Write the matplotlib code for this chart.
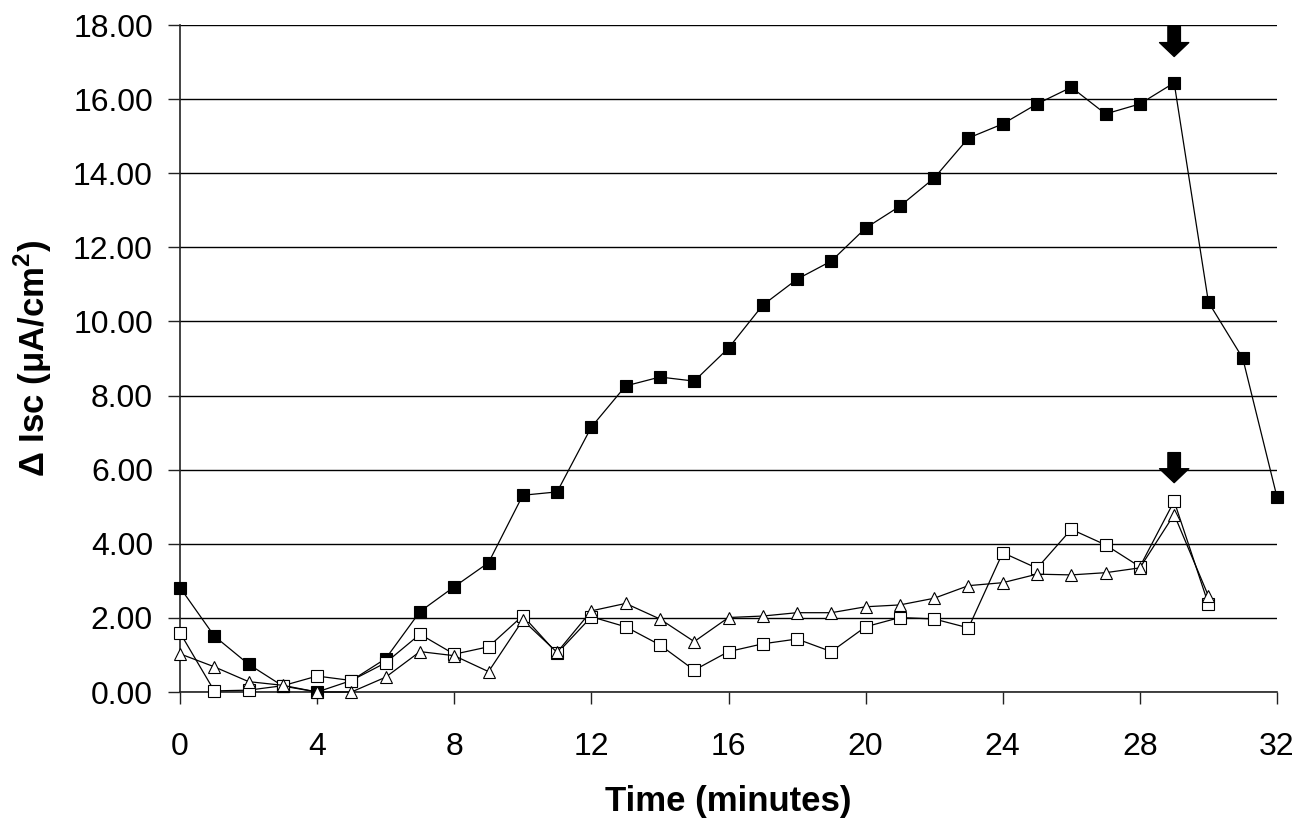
import matplotlib
matplotlib.use("Agg")
import matplotlib.pyplot as plt

plt.rcParams['font.family'] = ['Liberation Sans', 'DejaVu Sans']
plt.rcParams['mathtext.fontset'] = 'custom'
plt.rcParams['mathtext.rm'] = 'Liberation Sans'
plt.rcParams['mathtext.bf'] = 'Liberation Sans:bold'

time_min = list(range(0, 33))
filled = [2.82, 1.51, 0.75, 0.16, 0.00, 0.31, 0.90, 2.17, 2.84, 3.49, 5.31, 5.40,
          7.15, 8.26, 8.50, 8.39, 9.28, 10.44, 11.14, 11.63, 12.52, 13.11, 13.87,
          14.95, 15.33, 15.87, 16.32, 15.60, 15.87, 16.44, 10.52, 9.01, 5.26]
time_short = list(range(0, 31))
open_sq = [1.60, 0.03, 0.05, 0.17, 0.43, 0.31, 0.79, 1.56, 1.02, 1.22, 2.06, 1.04,
           2.03, 1.76, 1.27, 0.59, 1.09, 1.30, 1.43, 1.09, 1.76, 2.01, 1.97, 1.73,
           3.76, 3.34, 4.39, 3.97, 3.38, 5.15, 2.37]
triangle = [1.03, 0.68, 0.28, 0.18, 0.00, 0.00, 0.40, 1.09, 0.98, 0.55, 1.94, 1.07,
            2.19, 2.39, 1.97, 1.36, 2.01, 2.05, 2.14, 2.14, 2.30, 2.35, 2.53, 2.87,
            2.95, 3.18, 3.16, 3.22, 3.35, 4.79, 2.59]
arrow_x = [29, 29]
arrow_tip_y = [17.15, 5.65]

x_ticks = [0, 4, 8, 12, 16, 20, 24, 28, 32]
y_ticks = [0, 2, 4, 6, 8, 10, 12, 14, 16, 18]

fig = plt.figure(figsize=(12.98, 8.19), dpi=100)
ax = fig.add_axes([180/1298, 1 - 692/819, (1277-180)/1298, (692-25)/819])

ax.plot(time_min, filled, color='black', lw=0.9, marker='s', ms=8.2,
        mfc='black', mec='black', mew=0.8, clip_on=False, zorder=3)
ax.plot(time_short, open_sq, color='black', lw=0.9, marker='s', ms=8.2,
        mfc='white', mec='black', mew=0.8, clip_on=False, zorder=4)
ax.plot(time_short, triangle, color='black', lw=0.9, marker='^', ms=9,
        mfc='white', mec='black', mew=0.8, clip_on=False, zorder=5)

for xa, ya in zip(arrow_x, arrow_tip_y):
    ax.annotate('', xy=(xa, ya), xytext=(0, 21.6), textcoords='offset points',
                arrowprops=dict(arrowstyle='simple,head_length=0.5,head_width=1.05,tail_width=0.45',
                                color='black', shrinkA=0, shrinkB=0, mutation_scale=20),
                zorder=6)

ax.set_xlim(0, 32)
ax.set_ylim(0, 18)
ax.set_xticks(x_ticks)
ax.set_yticks(y_ticks)
ax.set_yticklabels([f"{v:.2f}" for v in y_ticks])
ax.yaxis.grid(True, color='black', lw=1.0)
ax.set_axisbelow(True)
for s in ['top', 'right']:
    ax.spines[s].set_visible(False)
for s in ['left', 'bottom']:
    ax.spines[s].set_linewidth(1.2)
    ax.spines[s].set_color('#222222')
ax.tick_params(axis='both', direction='out', length=8.5, width=1.0, labelsize=23, color='#222222')
ax.tick_params(axis='y', pad=11)
ax.tick_params(axis='x', pad=20)

ax.set_xlabel('Time (minutes)', fontsize=25, fontweight='bold', labelpad=17)
ax.set_ylabel(r'Δ Isc (μA/cm$^{\mathbf{2}}$)', fontsize=25, fontweight='bold', labelpad=14)

fig.savefig('out.png', dpi=100)
